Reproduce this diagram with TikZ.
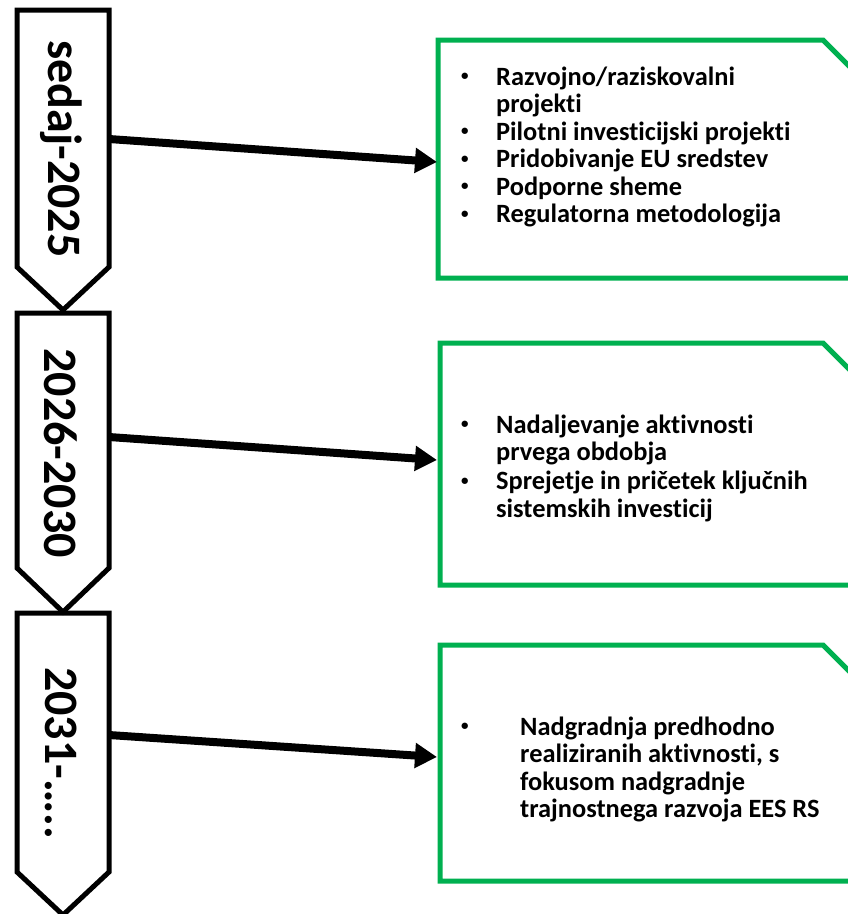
\documentclass[tikz,border=0pt]{standalone}
\usepackage{fontspec}
\setmainfont{Carlito}[Ligatures=NoCommon]
\usepackage{xcolor}
\definecolor{GreenLine}{HTML}{00B050}
\definecolor{Ink}{HTML}{000000}
\usetikzlibrary{arrows.meta}
\newcommand{\dotmark}{\raisebox{4.5pt}{\fontsize{15}{15}\selectfont•}}
\tikzset{
  chev/.style={draw=Ink, line width=5pt},
  gbox/.style={draw=GreenLine, line width=5pt},
  period/.style={rotate=-90, inner sep=0pt,
    font=\fontsize{48}{50}\selectfont\bfseries},
  items/.style={anchor=base west, inner sep=0pt, align=left,
    font=\fontsize{26.4}{27.5}\selectfont\bfseries},
  arr/.style={-{Triangle[length=22pt, width=24pt]}, line width=8pt, color=Ink},
}

\begin{document}
\begin{tikzpicture}[x=1pt, y=-1pt]
\useasboundingbox (0,0) rectangle (848,914);

% Period chevrons
\draw[chev] (17,10) -- (109,10) -- (109,267) -- (63,310) -- (17,267) -- cycle;
\draw[chev] (17,313) -- (109,313) -- (109,568) -- (63,612) -- (17,568) -- cycle;
\draw[chev] (17,613) -- (109,613) -- (109,872) -- (63,915) -- (17,872) -- cycle;

\node[period] at (61,149) (p1) {sedaj-2025};
\node[period] at (61,453) (p2) {2026-2030};
\node[period] at (61,753) (p3) {2031-…..};

% Green boxes with cut corner
\draw[gbox] (438,40) -- (823,40) -- (870,87) -- (870,278) -- (438,278) -- cycle;
\draw[gbox] (440,343) -- (823,343) -- (870,390) -- (870,585) -- (440,585) -- cycle;
\draw[gbox] (440,645) -- (823,645) -- (870,692) -- (870,881) -- (440,881) -- cycle;

\node[items] at (461,85) (b1) {%
  \begin{tabular}[t]{@{}p{35pt}@{}l@{}}
  \dotmark & Razvojno/raziskovalni\\
    & projekti\\
  \dotmark & Pilotni investicijski projekti\\
  \dotmark & Pridobivanje EU sredstev\\
  \dotmark & Podporne sheme\\
  \dotmark & Regulatorna metodologija
  \end{tabular}};

\node[items] at (461,433) (b2) {%
  \begin{tabular}[t]{@{}p{35pt}@{}l@{}}
  \dotmark & Nadaljevanje aktivnosti\\
    & prvega obdobja\\[1.5pt]
  \dotmark & Sprejetje in pričetek ključnih\\
    & sistemskih investicij
  \end{tabular}};

\node[items] at (461,735) (b3) {%
  \begin{tabular}[t]{@{}p{59pt}@{}l@{}}
  \dotmark & Nadgradnja predhodno\\
    & realiziranih aktivnosti, s\\
    & fokusom nadgradnje\\
    & trajnostnega razvoja EES RS
  \end{tabular}};

% Connectors
\coordinate (s1) at (109,139);
\coordinate (e1) at (437,162);
\coordinate (s2) at (109,437);
\coordinate (e2) at (437,460);
\coordinate (s3) at (109,735);
\coordinate (e3) at (437,757);
\draw[arr] (s1) -- (e1);
\draw[arr] (s2) -- (e2);
\draw[arr] (s3) -- (e3);

\end{tikzpicture}
\end{document}
